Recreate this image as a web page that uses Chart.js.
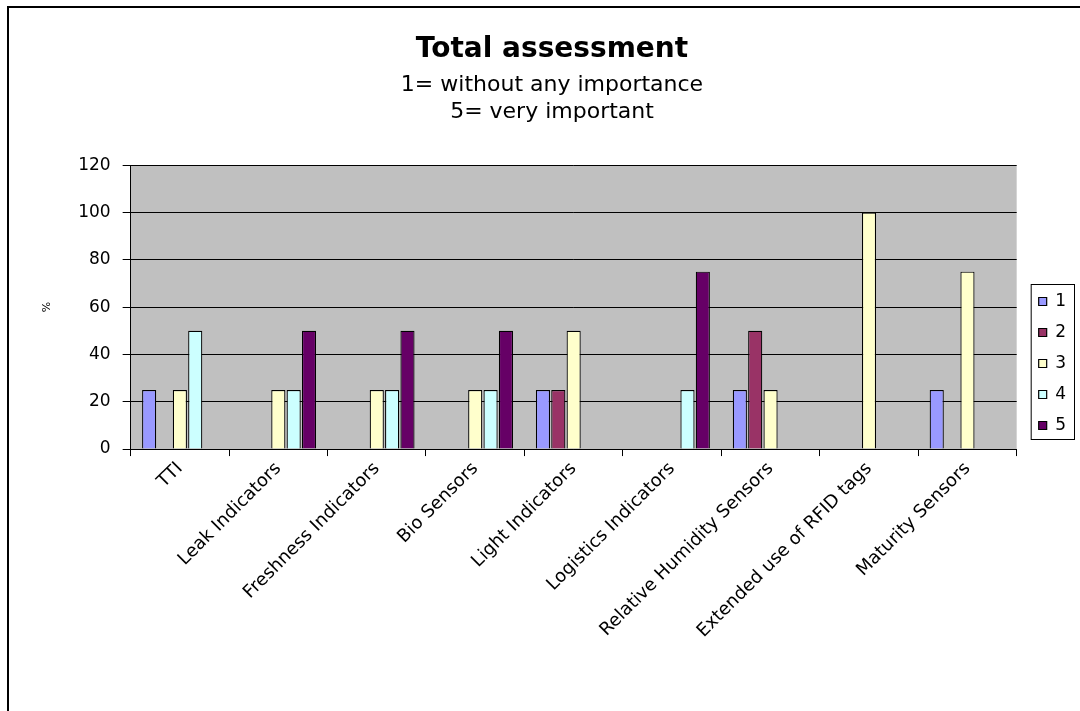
<!DOCTYPE html>
<html>
<head>
<meta charset="utf-8">
<title>Total assessment</title>
<script src="https://cdn.jsdelivr.net/npm/chart.js@4/dist/chart.umd.min.js"></script>
<style>
  html, body { margin: 0; padding: 0; background: #fff; }
  #wrap { width: 1080px; height: 711px; }
</style>
</head>
<body>
<div id="wrap"><canvas id="chart" width="1080" height="711"></canvas></div>
<script>
// categories and series values (% of answers per rating)
const categories = [
    'TTI', 'Leak Indicators', 'Freshness Indicators', 'Bio Sensors', 'Light Indicators',
    'Logistics Indicators', 'Relative Humidity Sensors', 'Extended use of RFID tags', 'Maturity Sensors'
];
const rating1 = [25, 0, 0, 0, 25, 0, 25, 0, 25];
const rating2 = [0, 0, 0, 0, 25, 0, 50, 0, 0];
const rating3 = [25, 25, 25, 25, 50, 0, 25, 100, 75];
const rating4 = [50, 25, 25, 25, 0, 25, 0, 0, 0];
const rating5 = [0, 50, 50, 50, 0, 75, 0, 0, 0];
const seriesLabels = ['1', '2', '3', '4', '5'];
const seriesColors = ['#9999FF', '#993366', '#FFFFCC', '#CCFFFF', '#660066'];
const yTicks = [0, 20, 40, 60, 80, 100, 120];

const FONT = "'DejaVu Sans', Verdana, sans-serif";

const frameAndBg = {
    id: 'frameAndBg',
    afterLayout(chart) {
        // move the legend next to the plot, like the Excel original
        const lg = chart.legend;
        const w = lg.width;
        lg.left = chart.chartArea.right + 8;
        lg.right = lg.left + w;
        const h = lg.height;
        lg.top = 279;
        lg.bottom = lg.top + h;
    },
    beforeDraw(chart) {
        const { ctx, chartArea: a } = chart;
        ctx.save();
        ctx.fillStyle = '#C0C0C0';
        ctx.fillRect(a.left, a.top, a.right - a.left, a.bottom - a.top);
        ctx.restore();
    },
    afterDraw(chart) {
        const ctx = chart.ctx;
        ctx.save();
        // outer chart frame (only left and top edges visible)
        ctx.strokeStyle = '#000';
        ctx.lineWidth = 2;
        ctx.beginPath();
        ctx.moveTo(8, 720);
        ctx.lineTo(8, 7);
        ctx.lineTo(1090, 7);
        ctx.stroke();
        // legend frame
        const boxes = chart.legend.legendHitBoxes;
        if (boxes && boxes.length) {
            const x0 = boxes[0].left - 8;
            const y0 = boxes[0].top - 9;
            const last = boxes[boxes.length - 1];
            const x1 = 1074;
            const y1 = last.top + last.height + 5;
            ctx.lineWidth = 1;
            ctx.strokeRect(x0 + 0.5, y0 + 0.5, x1 - x0, y1 - y0);
        }
        ctx.restore();
    }
};

const datasets = [rating1, rating2, rating3, rating4, rating5].map((vals, i) => ({
    label: seriesLabels[i],
    data: vals,
    backgroundColor: seriesColors[i],
    borderColor: '#000',
    borderWidth: 1.2,
    categoryPercentage: 0.78,
    barPercentage: 0.92
}));

new Chart(document.getElementById('chart').getContext('2d'), {
    type: 'bar',
    data: { labels: categories, datasets: datasets },
    plugins: [frameAndBg],
    options: {
        responsive: false,
        animation: false,
        layout: { padding: { top: 20, left: 36, right: 12, bottom: 67 } },
        plugins: {
            title: {
                display: true,
                text: 'Total assessment',
                color: '#000',
                font: { family: FONT, size: 28, weight: 'bold' },
                padding: { top: 13, bottom: 2 }
            },
            subtitle: {
                display: true,
                text: ['1= without any importance', '5= very important'],
                color: '#000',
                font: { family: FONT, size: 22, lineHeight: 1.24 },
                padding: { top: 3, bottom: 39 }
            },
            legend: {
                position: 'right',
                align: 'start',
                labels: {
                    color: '#000',
                    font: { family: FONT, size: 17 },
                    boxWidth: 8,
                    boxHeight: 8,
                    padding: 14,
                    useBorderRadius: false
                }
            },
            tooltip: { enabled: false }
        },
        scales: {
            x: {
                grid: {
                    offset: true,
                    drawOnChartArea: false,
                    color: '#000',
                    tickLength: 7
                },
                border: { color: '#000', width: 1 },
                ticks: {
                    color: '#000',
                    font: { family: FONT, size: 18 },
                    maxRotation: 45,
                    minRotation: 45,
                    padding: 2
                }
            },
            y: {
                min: 0,
                max: 120,
                afterBuildTicks(scale) {
                    scale.ticks = yTicks.map(v => ({ value: v }));
                },
                grid: { color: '#000', lineWidth: 1, tickLength: 8 },
                border: { color: '#000', width: 1 },
                ticks: {
                    color: '#000',
                    font: { family: FONT, size: 17 },
                    padding: 12
                },
                title: {
                    display: true,
                    text: '%',
                    color: '#000',
                    font: { family: FONT, size: 11 },
                    padding: { top: 5, bottom: 12 }
                }
            }
        }
    }
});
</script>
</body>
</html>
